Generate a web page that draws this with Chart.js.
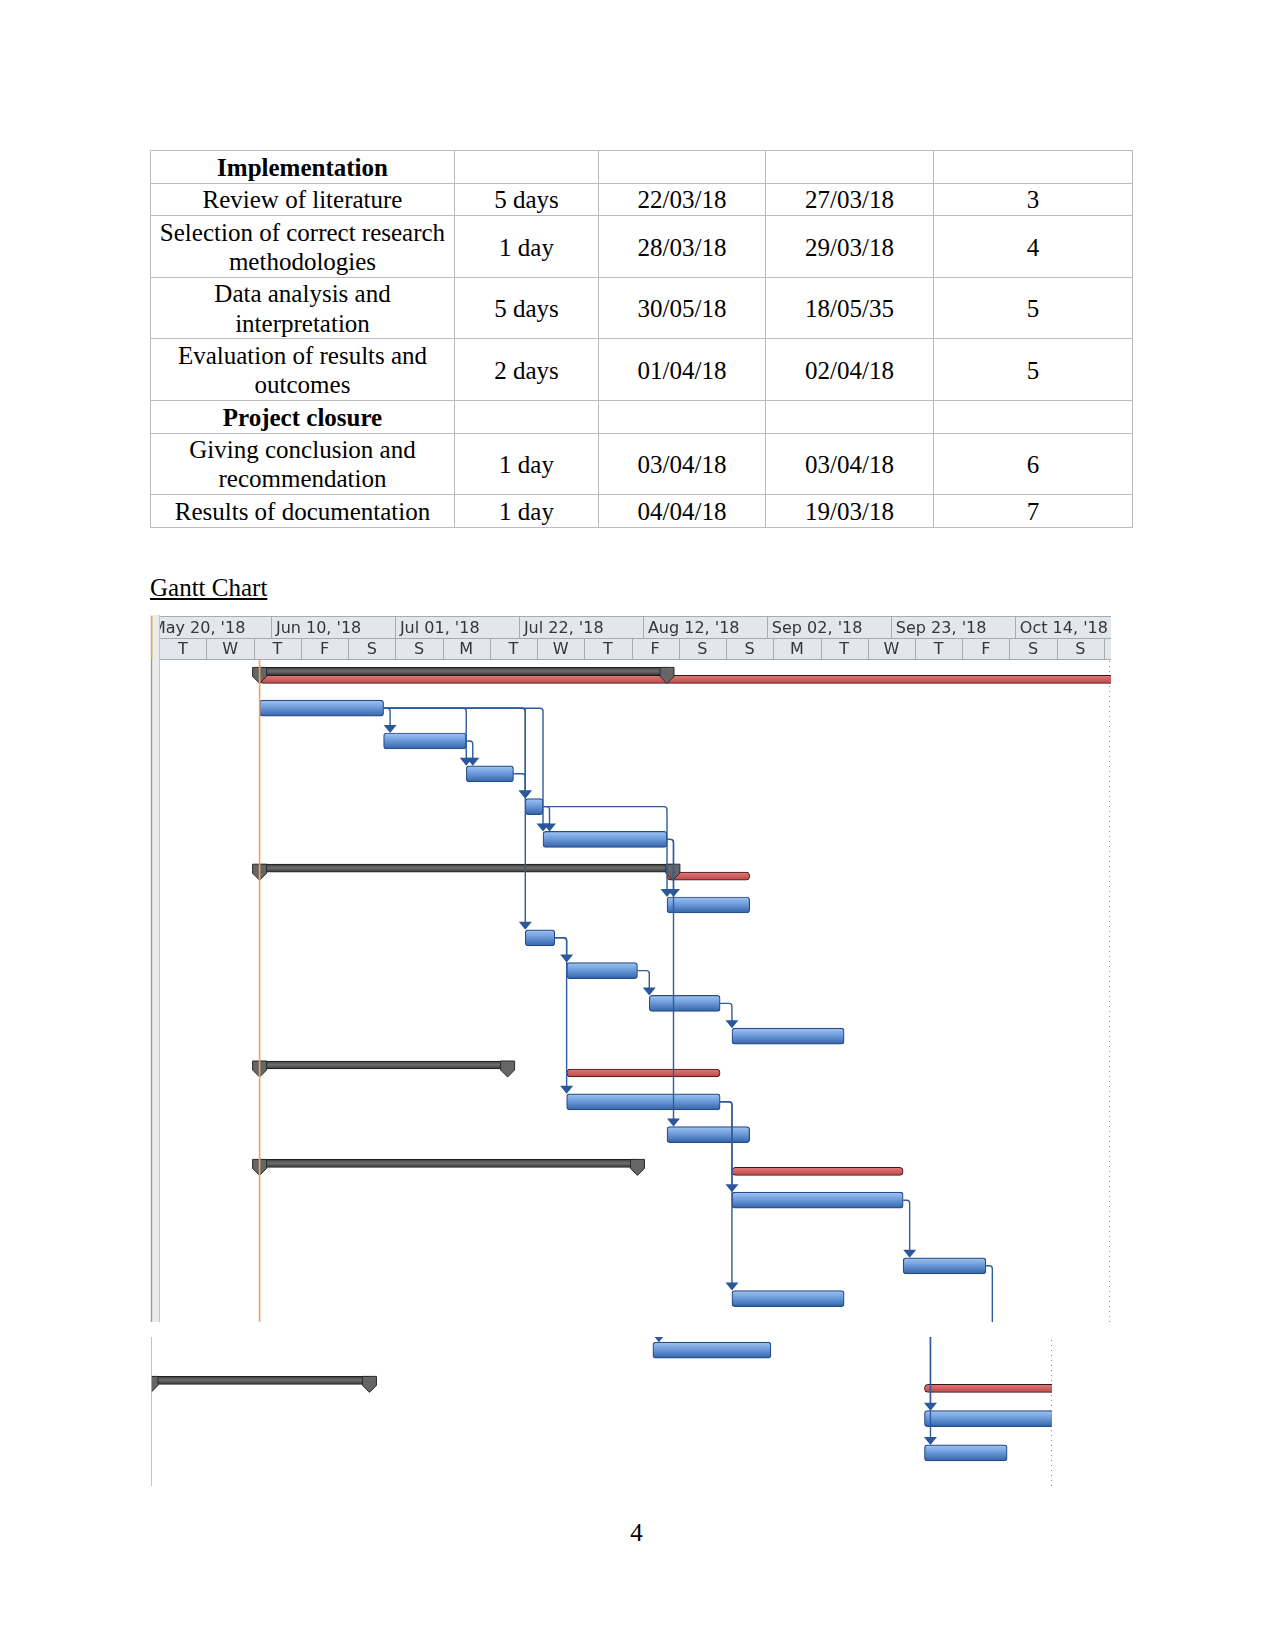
<!DOCTYPE html>
<html>
<head>
<meta charset="utf-8">
<script src="https://cdn.jsdelivr.net/npm/chart.js@4.4.1/dist/chart.umd.min.js"></script>
<style>
  body { margin: 0; background: #fff; width: 1275px; height: 1650px; position: relative; font-family: "Liberation Serif", "Times New Roman", serif; color: #000; }
  table.sched { position: absolute; left: 150px; top: 150px; width: 982px; border-collapse: collapse; table-layout: fixed; font-size: 25px; line-height: 29.5px; }
  table.sched td { border: 1px solid #bcbcbc; text-align: center; vertical-align: middle; padding: 1px 4px 0 4px; }
  #heading { position: absolute; left: 150px; top: 574px; font-size: 25px; line-height: 28.75px; text-decoration: underline; }
  #pageNo { position: absolute; left: 600px; width: 73px; text-align: center; top: 1519px; font-size: 25px; line-height: 28.75px; }
  #gantt1 { position: absolute; left: 150px; top: 615px; width: 961px; height: 707px; }
  #gantt2wrap { position: absolute; left: 151px; top: 1337px; width: 901px; height: 149px; overflow: hidden; }
  #gantt2 { position: absolute; left: 0; top: -4px; width: 901px; height: 153px; }
</style>
</head>
<body>

<table class="sched">
  <colgroup><col style="width:304px"><col style="width:144px"><col style="width:167px"><col style="width:168px"><col style="width:199px"></colgroup>
  <tr style="height:32.6px"><td><b>Implementation</b></td><td></td><td></td><td></td><td></td></tr>
  <tr style="height:32.7px"><td>Review of literature</td><td>5 days</td><td>22/03/18</td><td>27/03/18</td><td>3</td></tr>
  <tr style="height:62px"><td>Selection of correct research methodologies</td><td>1 day</td><td>28/03/18</td><td>29/03/18</td><td>4</td></tr>
  <tr style="height:61px"><td>Data analysis and interpretation</td><td>5 days</td><td>30/05/18</td><td>18/05/35</td><td>5</td></tr>
  <tr style="height:62px"><td>Evaluation of results and outcomes</td><td>2 days</td><td>01/04/18</td><td>02/04/18</td><td>5</td></tr>
  <tr style="height:32.6px"><td><b>Project closure</b></td><td></td><td></td><td></td><td></td></tr>
  <tr style="height:61px"><td>Giving conclusion and recommendation</td><td>1 day</td><td>03/04/18</td><td>03/04/18</td><td>6</td></tr>
  <tr style="height:33.6px"><td>Results of documentation</td><td>1 day</td><td>04/04/18</td><td>19/03/18</td><td>7</td></tr>
</table>

<div id="heading">Gantt Chart</div>

<div id="gantt1"><canvas id="c1"></canvas></div>
<div id="gantt2wrap"><div id="gantt2"><canvas id="c2"></canvas></div></div>

<div id="pageNo">4</div>

<script>
// timeline in days counted from May 20, 2018
const weekStartDays = [0, 21, 42, 63, 84, 105, 126, 147];
const weekLabels = ["May 20, '18", "Jun 10, '18", "Jul 01, '18", "Jul 22, '18", "Aug 12, '18", "Sep 02, '18", "Sep 23, '18", "Oct 14, '18"];
const unitStartDays = [2, 10, 18, 26, 34, 42, 50, 58, 66, 74, 82, 90, 98, 106, 114, 122, 130, 138, 146, 154, 162];
const unitLabels = ['T', 'W', 'T', 'F', 'S', 'S', 'M', 'T', 'W', 'T', 'F', 'S', 'S', 'M', 'T', 'W', 'T', 'F', 'S', 'S', ''];

const statusDay = 19;

// upper part of the screenshot
const rowIds = ['1','2','3','4','5','6','7','8','9','10','11','12','13','14','15','16','17','18','19','20'];
const summarySpans = [[19,88], null, null, null, null, null, [19,89], null, null, null, null, null, [19,61], null, null, [19,83], null, null, null, null];
const criticalSpans = [[19,170], null, null, null, null, null, [88,102], null, null, null, null, null, [71,97], null, null, [99,128], null, null, null, null];
const taskSpans = [null, [19,40], [40,54], [54,62], [64,67], [67,88], null, [88,102], [64,69], [71,83], [85,97], [99,118], null, [71,97], [88,102], null, [99,128], null, [128,142], [99,118]];
const links = [[2,3],[2,4],[3,4],[2,5],[4,5],[2,6],[5,6],[5,8],[6,8],[6,15],[2,9],[9,10],[10,11],[11,12],[9,14],[14,17],[14,20],[17,19],[19,null]];
const firstDay = 2.13, lastDay = 163.2, finishLine = 162.8;

// lower part of the screenshot
const rowIds2 = ['21','22','23','24'];
const summarySpans2 = [null, [19,56], null, null];
const criticalSpans2 = [null, [150,175], null, null];
const taskSpans2 = [[104,124], null, [150,175], [150,164]];
const links2 = [[null,1],[null,3],[null,4]];
const firstDay2 = 19, lastDay2 = 171.6, finishLine2 = 171.4;

function taskFill(c) {
  const chart = c.chart;
  if (!chart.chartArea || c.type !== 'data') return '#6f9edd';
  const y = chart.scales.y.getPixelForValue(c.dataIndex);
  const g = chart.ctx.createLinearGradient(0, y - 8, 0, y + 8);
  g.addColorStop(0, '#a4c4ef');
  g.addColorStop(0.45, '#6d9cdc');
  g.addColorStop(1, '#3463a8');
  return g;
}
function summaryFill(c) {
  const chart = c.chart;
  if (!chart.chartArea || c.type !== 'data') return '#555';
  const y = chart.scales.y.getPixelForValue(c.dataIndex) - 4;
  const g = chart.ctx.createLinearGradient(0, y - 4, 0, y + 4);
  g.addColorStop(0, '#3c3c3c');
  g.addColorStop(0.45, '#6e6e6e');
  g.addColorStop(1, '#393939');
  return g;
}
function criticalFill(c) {
  const chart = c.chart;
  if (!chart.chartArea || c.type !== 'data') return '#cf5858';
  const y = chart.scales.y.getPixelForValue(c.dataIndex) + 4;
  const g = chart.ctx.createLinearGradient(0, y - 4, 0, y + 4);
  g.addColorStop(0, '#e07a7a');
  g.addColorStop(1, '#bf4646');
  return g;
}

function drawHeader(chart) {
  const ctx = chart.ctx, x = chart.scales.x, area = chart.chartArea;
  const top = 1, mid = 23, bot = 44;
  ctx.save();
  // cut-off table strip on the left
  ctx.fillStyle = '#ececec';
  ctx.fillRect(0, 0, area.left, chart.height);
  ctx.fillStyle = '#d2b24a';
  ctx.fillRect(1, top, 1.5, bot - top);
  ctx.fillStyle = '#9a9a9a';
  ctx.fillRect(1, bot, 1.2, chart.height - bot);
  ctx.fillStyle = '#c4c4c4';
  ctx.fillRect(area.left - 1, 0, 1, chart.height);

  ctx.beginPath();
  ctx.rect(area.left, 0, area.right - area.left, bot + 1);
  ctx.clip();
  ctx.fillStyle = '#e3e6eb';
  ctx.fillRect(area.left, top, area.right - area.left, bot - top);
  ctx.strokeStyle = '#a6aab2';
  ctx.lineWidth = 1;
  ctx.beginPath();
  [top, mid, bot].forEach(y => { ctx.moveTo(area.left, y + 0.5); ctx.lineTo(area.right, y + 0.5); });
  weekStartDays.forEach(d => { const px = Math.round(x.getPixelForValue(d)) + 0.5; ctx.moveTo(px, top); ctx.lineTo(px, mid); });
  unitStartDays.forEach(d => { const px = Math.round(x.getPixelForValue(d)) + 0.5; ctx.moveTo(px, mid); ctx.lineTo(px, bot); });
  ctx.stroke();

  ctx.fillStyle = '#363636';
  ctx.font = '16px "DejaVu Sans"';
  ctx.textBaseline = 'middle';
  ctx.textAlign = 'left';
  weekStartDays.forEach((d, i) => ctx.fillText(weekLabels[i], x.getPixelForValue(d) + 4.5, (top + mid) / 2 + 1.5));
  ctx.textAlign = 'center';
  unitStartDays.forEach((d, i) => {
    const a = x.getPixelForValue(d), b = x.getPixelForValue(d + 8);
    ctx.fillText(unitLabels[i], (a + b) / 2, (mid + bot) / 2 + 1.5);
  });
  ctx.restore();
}

function ganttPlugin(linkList, finishDay, withHeader) {
  return {
    id: 'ganttDecor',
    beforeDraw(chart) {
      if (withHeader) drawHeader(chart);
    },
    afterDatasetsDraw(chart) {
      const ctx = chart.ctx, x = chart.scales.x, area = chart.chartArea;
      ctx.save();
      ctx.beginPath();
      ctx.rect(area.left, 0, area.right - area.left, chart.height);
      ctx.clip();

      // summary end caps
      const sMeta = chart.getDatasetMeta(0);
      sMeta.data.forEach((el, i) => {
        if (!chart.data.datasets[0].data[i]) return;
        [el.base, el.x].forEach(px => {
          const t = el.y - 4, sh = el.y + 5, tip = el.y + 12;
          ctx.beginPath();
          ctx.moveTo(px - 7, t);
          ctx.lineTo(px + 7, t);
          ctx.lineTo(px + 7, sh);
          ctx.lineTo(px, tip);
          ctx.lineTo(px - 7, sh);
          ctx.closePath();
          ctx.fillStyle = '#666';
          ctx.fill();
          ctx.strokeStyle = '#2a2a2a';
          ctx.lineWidth = 1;
          ctx.stroke();
        });
      });

      // dependency links
      const tMeta = chart.getDatasetMeta(2);
      ctx.strokeStyle = '#2f5c9d';
      ctx.fillStyle = '#2a579a';
      ctx.lineWidth = 1.4;
      linkList.forEach(([from, to]) => {
        const f = from ? tMeta.data[from - 1] : null;
        const t = to ? tMeta.data[to - 1] : null;
        let dropX;
        if (f && t) dropX = Math.max(f.x + 6.5, t.base);
        else if (f) dropX = f.x + 6.5;
        else dropX = t.base + 6;
        const y0 = f ? f.y : 0;
        const barTop = t ? t.y - t.height / 2 : chart.height;
        const y1 = t ? barTop - 6 : chart.height;
        ctx.beginPath();
        if (f) {
          ctx.moveTo(f.x, y0);
          ctx.lineTo(dropX - 3, y0);
          ctx.quadraticCurveTo(dropX, y0, dropX, y0 + 3);
        } else {
          ctx.moveTo(dropX, y0);
        }
        ctx.lineTo(dropX, y1);
        ctx.stroke();
        if (t) {
          ctx.beginPath();
          ctx.moveTo(dropX - 6.5, barTop - 8);
          ctx.lineTo(dropX + 6.5, barTop - 8);
          ctx.lineTo(dropX, barTop);
          ctx.closePath();
          ctx.fill();
        }
      });
      ctx.restore();

      // status date and finish markers
      ctx.save();
      const sx = x.getPixelForValue(statusDay);
      ctx.strokeStyle = '#f4a262';
      ctx.lineWidth = 1.6;
      ctx.beginPath();
      ctx.moveTo(sx, area.top);
      ctx.lineTo(sx, chart.height);
      ctx.stroke();
      const fx = Math.round(x.getPixelForValue(finishDay)) + 0.5;
      ctx.strokeStyle = '#8c8c8c';
      ctx.lineWidth = 1;
      ctx.setLineDash([1, 4]);
      ctx.beginPath();
      ctx.moveTo(fx, area.top + 2);
      ctx.lineTo(fx, chart.height);
      ctx.stroke();
      ctx.restore();
    }
  };
}

function buildGantt(canvasId, cfg) {
  return new Chart(document.getElementById(canvasId), {
    type: 'bar',
    data: {
      labels: cfg.rows,
      datasets: [
        { label: 'Summary', data: cfg.summary, backgroundColor: summaryFill, borderColor: '#1e1e1e', borderWidth: 1, borderSkipped: false, barThickness: 8 },
        { label: 'Critical', data: cfg.critical, backgroundColor: criticalFill, borderColor: '#3a1515', borderWidth: 1, borderSkipped: false, borderRadius: 4, barThickness: 8 },
        { label: 'Task', data: cfg.tasks, backgroundColor: taskFill, borderColor: '#264c8a', borderWidth: 1.2, borderSkipped: false, borderRadius: 3, barThickness: 16, grouped: false }
      ]
    },
    options: {
      indexAxis: 'y',
      responsive: true,
      maintainAspectRatio: false,
      animation: false,
      devicePixelRatio: 1,
      layout: { padding: cfg.padding },
      scales: {
        x: { type: 'linear', min: cfg.min, max: cfg.max, display: false },
        y: { type: 'category', display: false, offset: true }
      },
      plugins: { legend: { display: false }, tooltip: { enabled: false } }
    },
    plugins: [ganttPlugin(cfg.links, cfg.finish, cfg.header)]
  });
}

buildGantt('c1', {
  rows: rowIds, summary: summarySpans, critical: criticalSpans, tasks: taskSpans, links: links,
  min: firstDay, max: lastDay, finish: finishLine, header: true,
  padding: { left: 10, top: 44, right: 0, bottom: 7 }
});

buildGantt('c2', {
  rows: rowIds2, summary: summarySpans2, critical: criticalSpans2, tasks: taskSpans2, links: links2,
  min: firstDay2, max: lastDay2, finish: finishLine2, header: false,
  padding: { left: 0, top: 0, right: 0, bottom: 16 }
});
</script>
</body>
</html>
